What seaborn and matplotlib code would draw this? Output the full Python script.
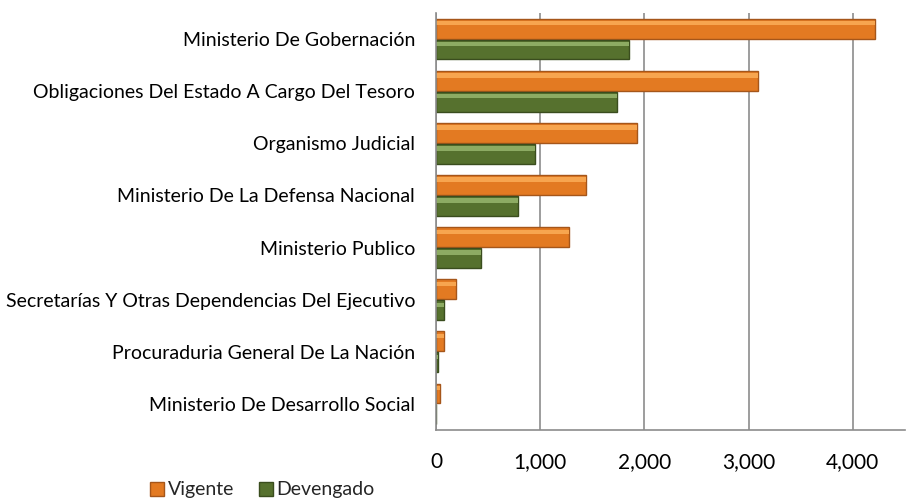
import numpy as np
import pandas as pd
import matplotlib
matplotlib.use("Agg")
import matplotlib.pyplot as plt
from matplotlib.patches import Rectangle
from matplotlib.ticker import FixedLocator, FuncFormatter
import seaborn as sns

categories = [
    "Ministerio De Gobernación",
    "Obligaciones Del Estado A Cargo Del Tesoro",
    "Organismo Judicial",
    "Ministerio De La Defensa Nacional",
    "Ministerio Publico",
    "Secretarías Y Otras Dependencias Del Ejecutivo",
    "Procuraduria General De La Nación",
    "Ministerio De Desarrollo Social",
]
vigente = [4210, 3093, 1928, 1438, 1280, 188, 73, 35]
devengado = [1852, 1737, 951, 783, 430, 73, 22, 3]
series = ["Vigente", "Devengado"]
x_ticks = [0, 1000, 2000, 3000, 4000]

colors = {"Vigente": "#E37A22", "Devengado": "#56712E"}
lights = {"Vigente": "#F7A54F", "Devengado": "#8DAB63"}
edges = {"Vigente": "#A5561A", "Devengado": "#3A4D1E"}

df = pd.DataFrame({
    "Entidad": categories * 2,
    "Serie": [series[0]] * len(categories) + [series[1]] * len(categories),
    "Monto": vigente + devengado,
})

sns.set_style("white")
plt.rcParams["font.family"] = ["Lato", "DejaVu Sans"]

fig = plt.figure(figsize=(9.08, 5.0), dpi=100)
ax = fig.add_axes([436 / 908, 70 / 500, 469 / 908, 417 / 500])

sns.barplot(data=df, y="Entidad", x="Monto", hue="Serie", orient="h",
            palette=colors, saturation=1, width=0.8, gap=0.05, ax=ax, legend=False)

# darker edge + light top strip to hint at the bevel look
for container, name in zip(ax.containers, series):
    for bar in container:
        bar.set_edgecolor(edges[name])
        bar.set_linewidth(1.0)
        x0, y0 = bar.get_x(), bar.get_y()
        w, h = bar.get_width(), bar.get_height()
        ax.add_patch(Rectangle((x0, y0 + h * 0.12), w, h * 0.22,
                               facecolor=lights[name], edgecolor="none", zorder=bar.get_zorder() + 0.1))

ax.set_xlim(0, 4500)
ax.set_ylim(len(categories) - 0.5, -0.5)
ax.xaxis.set_major_locator(FixedLocator(x_ticks))
ax.xaxis.set_major_formatter(FuncFormatter(lambda v, p: f"{int(v):,}"))
ax.grid(axis="x", color="#8C8C8C", linewidth=1.2)
ax.set_axisbelow(True)

for side in ["top", "right"]:
    ax.spines[side].set_visible(False)
for side in ["left", "bottom"]:
    ax.spines[side].set_color("#8C8C8C")
    ax.spines[side].set_linewidth(1.2)

ax.tick_params(axis="x", length=6, width=1.2, color="#8C8C8C", labelsize=15,
               pad=10, direction="out", labelcolor="black")
ax.tick_params(axis="y", length=0, labelsize=14, pad=15, labelcolor="black")
ax.yaxis.set_minor_locator(FixedLocator(np.arange(len(categories) + 1) - 0.5))
ax.tick_params(axis="y", which="minor", length=6, width=1.2, color="#8C8C8C")
ax.set_xlabel("")
ax.set_ylabel("")

handles = [Rectangle((0, 0), 1, 1, facecolor=colors[s], edgecolor=edges[s]) for s in series]
fig.legend(handles, series, loc="center left", bbox_to_anchor=(150 / 908, 1 - 490 / 500),
           ncol=2, frameon=False, fontsize=14, handlelength=0.7, handleheight=0.7,
           handletextpad=0.2, columnspacing=1.3, borderaxespad=0.0, borderpad=0.0)

fig.savefig("out.png", dpi=100)
